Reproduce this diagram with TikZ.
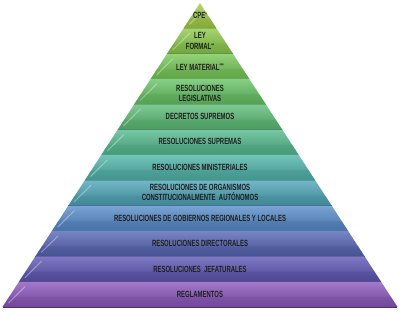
\documentclass[tikz,border=0pt]{standalone}
\usepackage{fontspec}
\setmainfont{Liberation Sans}[FakeStretch=0.66]
\newcommand{\astr}[1]{\raisebox{2.2pt}{\fontsize{5.5}{5.5}\selectfont #1}}
\begin{document}
\begin{tikzpicture}[x=1pt,y=-1pt,
  lbl/.style={text=black!88,font=\fontsize{9}{10.8}\selectfont\bfseries,align=center,inner sep=0pt}]
\useasboundingbox (0,0) rectangle (400,312);
\fill[white] (0,0) rectangle (400,312);
\definecolor{c0}{HTML}{A2CE48}
\definecolor{c1}{HTML}{8CCC4C}
\definecolor{c2}{HTML}{78C958}
\definecolor{c3}{HTML}{68C466}
\definecolor{c4}{HTML}{5DBF78}
\definecolor{c5}{HTML}{55BB8E}
\definecolor{c6}{HTML}{50B6AA}
\definecolor{c7}{HTML}{4EA6B8}
\definecolor{c8}{HTML}{588CCC}
\definecolor{c9}{HTML}{5666B6}
\definecolor{c10}{HTML}{5E58B6}
\definecolor{c11}{HTML}{8C58BE}
\pgfmathsetmacro{\h}{304/12}
\foreach \i in {0,...,11}{
  \pgfmathsetmacro{\t}{3+\h*\i}
  \pgfmathsetmacro{\b}{3+\h*(\i+1)}
  \pgfmathsetmacro{\wt}{(\t-3)/304*197.5}
  \pgfmathsetmacro{\wb}{(\b-3)/304*197.5}
  \shade[top color=c\i!80!white, middle color=c\i, bottom color=c\i!80!black]
    (200-\wt,\t) -- (200+\wt,\t) -- (200+\wb,\b) -- (200-\wb,\b) -- cycle;
  \fill[c\i!85!black, opacity=0.45]
    (200-\wb+0.4*\h*0.65,\b-0.4*\h) -- (200+\wb-0.4*\h*0.65,\b-0.4*\h) -- (200+\wb,\b) -- (200-\wb,\b) -- cycle;
  \draw[c\i!55!black, line width=0.7] (200-\wb,\b) -- (200+\wb,\b);
  \draw[white, opacity=0.35, line width=1, line cap=round]
    (200-\wb+6,\b-4) -- (200-\wt+6,\t+5);
}
\node[lbl] (n0) at (200,15.5) {CPE\astr{*}};
\node[lbl] (n1) at (200,41) {LEY\\FORMAL\astr{**}};
\node[lbl] (n2) at (200,67) {LEY MATERIAL\astr{***}};
\node[lbl] (n3) at (200,93.5) {RESOLUCIONES\\LEGISLATIVAS};
\node[lbl] (n4) at (200,116.5) {DECRETOS SUPREMOS};
\node[lbl] (n5) at (200,141.5) {RESOLUCIONES SUPREMAS};
\node[lbl] (n6) at (200,167) {RESOLUCIONES MINISTERIALES};
\node[lbl] (n7) at (200,192.5) {RESOLUCIONES DE ORGANISMOS\\CONSTITUCIONALMENTE\ \ AUTÓNOMOS};
\node[lbl] (n8) at (200,218) {RESOLUCIONES DE GOBIERNOS REGIONALES Y LOCALES};
\node[lbl] (n9) at (200,243.5) {RESOLUCIONES DIRECTORALES};
\node[lbl] (n10) at (200,269) {RESOLUCIONES\ \ JEFATURALES};
\node[lbl] (n11) at (200,294.5) {REGLAMENTOS};
\end{tikzpicture}
\end{document}
